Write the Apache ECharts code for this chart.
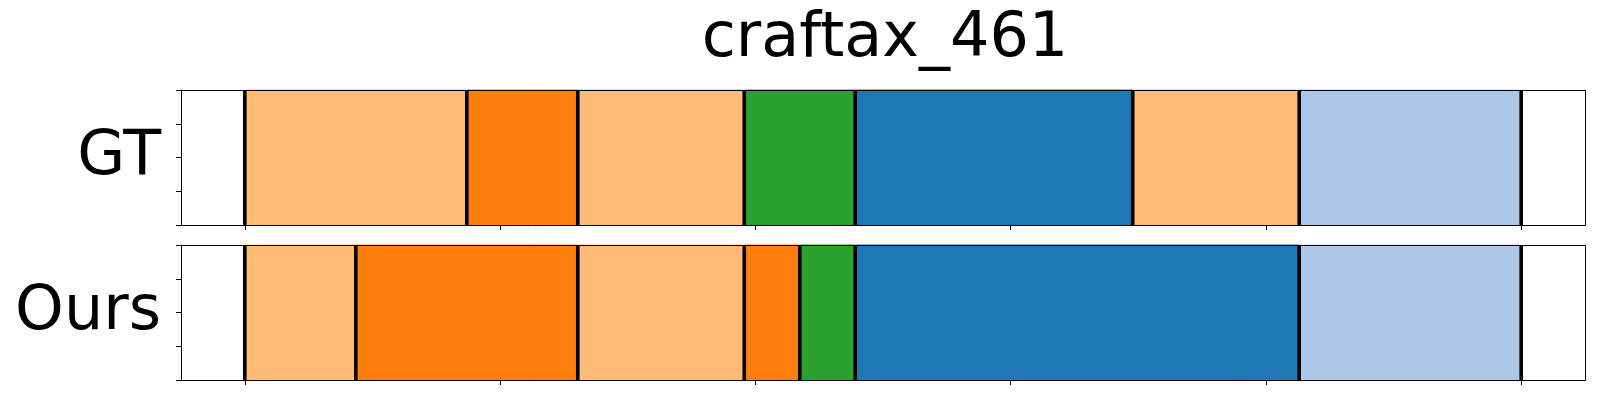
<!DOCTYPE html>
<html>
<head>
<meta charset="utf-8">
<script src="https://cdn.jsdelivr.net/npm/echarts@6/dist/echarts.min.js"></script>
<style>html,body{margin:0;padding:0;background:#fff;}#c{width:1600px;height:400px;}</style>
</head>
<body>
<div id="c"></div>
<script>
// ---- data ----
const titleText = 'craftax_461';
const rowNames = ['GT', 'Ours'];
const classColors = ['#ff7f0e', '#ffbb78', '#2ca02c', '#1f77b4', '#aec7e8'];
const gtLengths = [4, 2, 3, 2, 5, 3, 4];
const gtClasses = [1, 0, 1, 2, 3, 1, 4];
const oursLengths = [2, 4, 3, 1, 1, 8, 4];
const oursClasses = [1, 0, 1, 0, 2, 3, 4];
const totalLength = 23;
const xTickValues = [0, 4.6, 9.2, 13.8, 18.4, 23];
const yTickValues = [0, 0.25, 0.5, 0.75, 1];

function buildSegments(lengths, classes) {
  const segs = [], bounds = [0];
  let s = 0;
  lengths.forEach((l, i) => {
    segs.push([s, s + l, classes[i]]);
    s += l;
    bounds.push(s);
  });
  return { segs, bounds };
}
const rows = [buildSegments(gtLengths, gtClasses), buildSegments(oursLengths, oursClasses)];

const margin = totalLength * 0.05;
const xMin = -margin, xMax = totalLength + margin;
const gridTops = [90, 245];
const gridH = 135;
const font = 'DejaVu Sans';

const grids = [], xAxes = [], yAxes = [], series = [];
rows.forEach((row, gi) => {
  grids.push({ left: 181, width: 1404, top: gridTops[gi], height: gridH, show: false });
  xAxes.push({
    gridIndex: gi, type: 'value', min: xMin, max: xMax, position: 'bottom', z: 10,
    axisLine: { show: true, onZero: false, lineStyle: { color: '#000', width: 1 } },
    axisTick: { show: true, customValues: xTickValues, length: 5, lineStyle: { color: '#000', width: 1 } },
    axisLabel: { show: false }, splitLine: { show: false }
  });
  xAxes.push({
    gridIndex: gi, type: 'value', min: xMin, max: xMax, position: 'top', z: 10,
    axisLine: { show: true, onZero: false, lineStyle: { color: '#000', width: 1 } },
    axisTick: { show: false }, axisLabel: { show: false }, splitLine: { show: false }
  });
  yAxes.push({
    gridIndex: gi, type: 'value', min: 0, max: 1, position: 'left', z: 10,
    axisLine: { show: true, onZero: false, lineStyle: { color: '#000', width: 1 } },
    axisTick: { show: true, customValues: yTickValues, length: 5, lineStyle: { color: '#000', width: 1 } },
    axisLabel: { show: false }, splitLine: { show: false },
    name: rowNames[gi], nameLocation: 'middle', nameGap: 20, nameRotate: 0,
    nameTextStyle: { fontFamily: font, fontSize: 62, color: '#000', align: 'right', verticalAlign: 'middle', padding: [0, 0, 8, 0] }
  });
  yAxes.push({
    gridIndex: gi, type: 'value', min: 0, max: 1, position: 'right', z: 10,
    axisLine: { show: true, onZero: false, lineStyle: { color: '#000', width: 1 } },
    axisTick: { show: false }, axisLabel: { show: false }, splitLine: { show: false }
  });
  const xi = gi * 2, yi = gi * 2;
  series.push({
    type: 'custom', xAxisIndex: xi, yAxisIndex: yi, z: 2, silent: true,
    data: row.segs,
    encode: { x: [0, 1] },
    renderItem: function (params, api) {
      const p0 = api.coord([api.value(0), 1]);
      const p1 = api.coord([api.value(1), 0]);
      const col = classColors[api.value(2)];
      return {
        type: 'rect',
        shape: { x: p0[0], y: p0[1], width: p1[0] - p0[0], height: p1[1] - p0[1] },
        style: { fill: col, stroke: col, lineWidth: 1 }
      };
    }
  });
  series.push({
    type: 'custom', xAxisIndex: xi, yAxisIndex: yi, z: 3, silent: true,
    data: row.bounds.map(b => [b]),
    encode: { x: 0 },
    renderItem: function (params, api) {
      const a = api.coord([api.value(0), 0]);
      const b = api.coord([api.value(0), 1]);
      return {
        type: 'line',
        shape: { x1: a[0], y1: a[1], x2: b[0], y2: b[1] },
        style: { stroke: '#000', lineWidth: 3.6 }
      };
    }
  });
});

const chart = echarts.init(document.getElementById('c'), null, { renderer: 'canvas' });
chart.setOption({
  animation: false,
  backgroundColor: '#fff',
  title: {
    text: titleText, left: 880, top: 4, textAlign: 'center',
    textStyle: { fontFamily: font, fontSize: 62, fontWeight: 'normal', color: '#000' }
  },
  grid: grids, xAxis: xAxes, yAxis: yAxes, series: series
});
</script>
</body>
</html>
